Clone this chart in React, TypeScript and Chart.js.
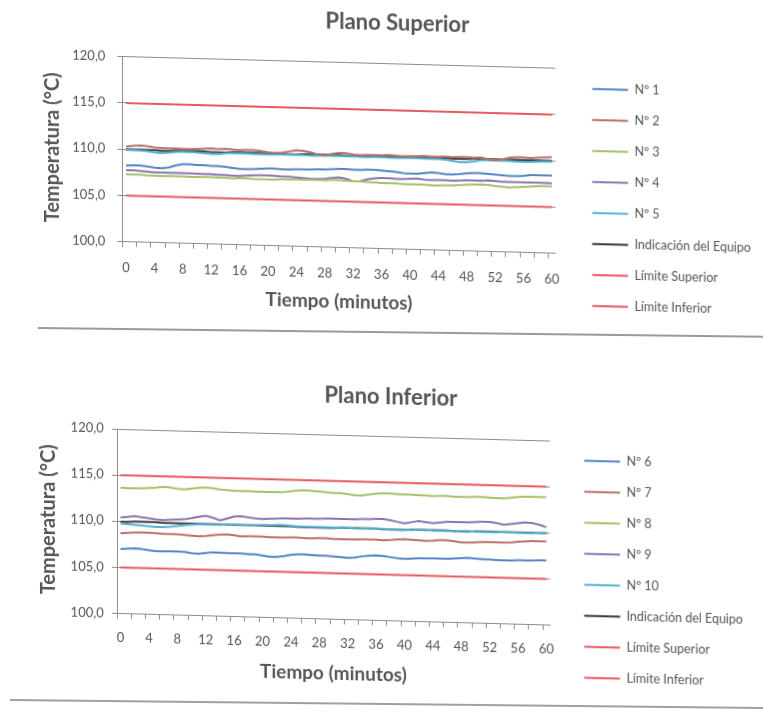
import React, { useEffect, useRef } from "react";
import { Chart, registerables } from "chart.js";

Chart.register(...registerables);

// ---------- DATA ----------
const minutes = [
  "0","1","2","3","4","5","6","7","8","9","10","11","12","13","14","15","16","17","18","19","20",
  "21","22","23","24","25","26","27","28","29","30","31","32","33","34","35","36","37","38","39","40",
  "41","42","43","44","45","46","47","48","49","50","51","52","53","54","55","56","57","58","59","60",
];
const xTickLabels = ["0","4","8","12","16","20","24","28","32","36","40","44","48","52","56","60"];
const yTicks = [100, 105, 110, 115, 120];

const limiteSuperior = [
  115,115,115,115,115,115,115,115,115,115,115,115,115,115,115,115,115,115,115,115,115,
  115,115,115,115,115,115,115,115,115,115,115,115,115,115,115,115,115,115,115,115,
  115,115,115,115,115,115,115,115,115,115,115,115,115,115,115,115,115,115,115,115,
];
const limiteInferior = [
  105,105,105,105,105,105,105,105,105,105,105,105,105,105,105,105,105,105,105,105,105,
  105,105,105,105,105,105,105,105,105,105,105,105,105,105,105,105,105,105,105,105,
  105,105,105,105,105,105,105,105,105,105,105,105,105,105,105,105,105,105,105,105,
];

// Plano Superior
const n1 = [
  108.25,108.3,108.3,108.2,108.1,108.05,108.15,108.4,108.55,108.55,
  108.5,108.5,108.45,108.45,108.4,108.3,108.2,108.2,108.25,108.3,
  108.35,108.35,108.3,108.3,108.35,108.35,108.35,108.4,108.4,108.45,
  108.5,108.5,108.45,108.45,108.5,108.5,108.45,108.4,108.35,108.25,
  108.2,108.2,108.3,108.4,108.35,108.25,108.25,108.3,108.4,108.45,
  108.45,108.4,108.35,108.3,108.25,108.25,108.3,108.4,108.4,108.4,108.4,
];
const n2 = [
  110.3,110.4,110.45,110.4,110.3,110.25,110.2,110.25,110.2,110.2,
  110.25,110.3,110.35,110.3,110.35,110.3,110.25,110.3,110.3,110.2,
  110.1,110.05,110.1,110.25,110.4,110.35,110.2,110.0,109.95,110.1,
  110.25,110.2,110.1,110.05,110.1,110.1,110.1,110.15,110.1,110.05,
  110.1,110.1,110.15,110.1,110.1,110.15,110.1,110.15,110.15,110.1,
  110.15,110.0,109.9,110.0,110.2,110.3,110.3,110.25,110.3,110.35,110.4,
];
const n3 = [
  107.3,107.3,107.3,107.25,107.25,107.2,107.25,107.25,107.25,107.2,
  107.2,107.25,107.25,107.2,107.2,107.15,107.2,107.2,107.15,107.15,
  107.15,107.15,107.2,107.2,107.25,107.25,107.25,107.25,107.25,107.3,
  107.3,107.25,107.2,107.2,107.15,107.15,107.1,107.1,107.1,107.05,
  107.05,107.05,107.05,107.0,107.0,107.05,107.05,107.1,107.15,107.2,
  107.25,107.2,107.1,107.05,107.0,107.05,107.1,107.15,107.2,107.25,107.25,
];
const n4 = [
  107.75,107.75,107.7,107.65,107.6,107.6,107.6,107.6,107.6,107.6,
  107.55,107.55,107.55,107.5,107.5,107.45,107.45,107.5,107.55,107.6,
  107.6,107.55,107.5,107.5,107.45,107.4,107.35,107.35,107.4,107.5,
  107.6,107.45,107.2,107.25,107.45,107.6,107.65,107.65,107.6,107.6,
  107.65,107.7,107.6,107.55,107.6,107.6,107.55,107.6,107.65,107.65,
  107.65,107.7,107.65,107.6,107.6,107.6,107.6,107.6,107.6,107.6,107.55,
];
const n5 = [
  109.95,109.95,109.9,109.85,109.75,109.7,109.75,109.85,109.9,109.9,
  109.85,109.8,109.75,109.75,109.85,109.9,109.9,109.9,109.85,109.85,
  109.85,109.85,109.9,109.9,109.9,109.9,109.85,109.85,109.9,109.9,
  109.9,109.9,109.9,109.85,109.85,109.9,109.9,109.85,109.85,109.85,
  109.9,109.9,109.85,109.85,109.85,109.8,109.7,109.6,109.6,109.7,
  109.85,109.85,109.85,109.85,109.85,109.8,109.8,109.8,109.85,109.9,109.9,
];
const indicacionSuperior = [
  110.0,110.0,110.0,110.0,110.0,109.95,109.95,110.0,110.0,110.0,
  110.0,110.0,109.95,109.95,109.95,110.0,110.0,110.0,110.0,110.0,
  110.0,110.0,110.0,109.95,109.95,110.0,110.0,110.0,110.0,110.0,
  110.0,109.95,109.95,109.95,110.0,110.0,110.0,110.0,109.95,109.95,
  110.0,110.0,110.0,110.0,110.0,110.0,109.95,109.95,109.95,110.0,
  110.0,110.0,110.0,110.0,110.0,110.0,110.0,110.0,110.0,110.0,110.0,
];

// Plano Inferior
const n6 = [
  107.0,107.05,107.1,107.05,106.95,106.85,106.85,106.9,106.9,106.85,
  106.75,106.7,106.8,106.9,106.9,106.85,106.85,106.85,106.8,106.8,
  106.7,106.6,106.6,106.7,106.85,106.95,106.95,106.9,106.85,106.85,
  106.8,106.75,106.7,106.75,106.9,107.0,107.05,107.0,106.9,106.8,
  106.75,106.8,106.85,106.85,106.9,106.9,106.9,106.95,107.0,107.05,
  107.0,106.95,106.95,106.9,106.9,106.9,106.95,106.95,106.95,107.0,107.0,
];
const n7 = [
  108.7,108.75,108.8,108.85,108.85,108.8,108.75,108.75,108.75,108.7,
  108.65,108.6,108.65,108.75,108.85,108.9,108.8,108.7,108.75,108.75,
  108.75,108.7,108.7,108.7,108.75,108.75,108.7,108.7,108.75,108.75,
  108.7,108.7,108.7,108.7,108.75,108.75,108.75,108.7,108.75,108.85,
  108.9,108.85,108.8,108.75,108.8,108.9,108.9,108.8,108.7,108.7,
  108.75,108.8,108.8,108.8,108.8,108.85,108.95,109.0,109.05,109.05,109.05,
];
const n8 = [
  113.65,113.6,113.6,113.65,113.7,113.75,113.85,113.8,113.7,113.65,
  113.75,113.85,113.9,113.85,113.75,113.7,113.65,113.65,113.65,113.6,
  113.6,113.6,113.6,113.65,113.75,113.85,113.9,113.85,113.8,113.75,
  113.7,113.7,113.6,113.5,113.5,113.65,113.75,113.8,113.8,113.75,
  113.75,113.75,113.7,113.7,113.65,113.7,113.7,113.65,113.65,113.65,
  113.7,113.7,113.65,113.6,113.6,113.7,113.8,113.85,113.85,113.85,113.85,
];
const n9 = [
  110.4,110.5,110.6,110.5,110.4,110.3,110.25,110.3,110.35,110.4,
  110.55,110.7,110.85,110.65,110.4,110.6,110.85,110.9,110.8,110.7,
  110.65,110.7,110.75,110.8,110.8,110.8,110.85,110.85,110.85,110.9,
  110.9,110.9,110.9,110.9,110.95,110.95,111.0,111.0,110.9,110.75,
  110.6,110.75,110.9,110.8,110.7,110.8,110.9,110.9,110.9,110.9,
  110.95,111.0,111.0,110.9,110.75,110.85,110.95,111.05,111.0,110.85,110.6,
];
const n10 = [
  109.75,109.7,109.65,109.6,109.55,109.5,109.5,109.55,109.65,109.75,
  109.85,109.9,109.9,109.9,109.9,109.95,109.95,109.95,109.95,109.95,
  110.0,110.0,110.05,110.05,110.0,109.95,109.95,109.95,109.95,109.95,
  109.95,109.95,109.95,109.9,109.9,109.95,109.95,109.95,109.9,109.9,
  109.9,109.9,109.95,109.95,109.9,109.9,109.9,109.9,109.95,109.95,
  109.9,109.9,109.9,109.9,109.95,109.95,109.9,109.9,109.9,109.95,109.95,
];
const indicacionInferior = [
  109.95,109.95,110.0,110.0,110.0,110.0,109.95,109.95,109.95,109.95,
  109.95,109.95,109.95,109.95,109.95,109.95,109.95,109.95,109.95,109.95,
  109.95,109.95,109.95,109.95,109.95,109.9,109.9,109.9,109.9,109.9,
  109.9,109.95,109.95,109.95,109.95,109.95,109.95,109.9,109.9,109.9,
  109.9,109.95,109.95,109.95,109.95,109.95,109.95,109.9,109.9,109.9,
  109.95,109.95,109.95,109.95,109.95,109.95,109.95,109.95,109.95,109.95,109.95,
];

const namesSuperior = ["Nº 1", "Nº 2", "Nº 3", "Nº 4", "Nº 5", "Indicación del Equipo", "Límite Superior", "Límite Inferior"];
const namesInferior = ["Nº 6", "Nº 7", "Nº 8", "Nº 9", "Nº 10", "Indicación del Equipo", "Límite Superior", "Límite Inferior"];
const seriesSuperior = [n1, n2, n3, n4, n5, indicacionSuperior, limiteSuperior, limiteInferior];
const seriesInferior = [n6, n7, n8, n9, n10, indicacionInferior, limiteSuperior, limiteInferior];

// ---------- STYLE ----------
const COLORS = ["#5485C2", "#B8716A", "#A3C26A", "#8A74B0", "#52B3D0", "#3A3A3A", "#E65A5E", "#E65A5E"];
const FONT = "Lato, 'Open Sans', sans-serif";
const TEXT = "#555555";
const TITLE_TEXT = "#565656";
const AXIS = "#8C8C8C";
const CANVAS_W = 800;

const TITLE_SIZE = 22;
const AXIS_TITLE_SIZE = 20;
const X_TITLE_SIZE = 19;
const TICK_SIZE = 13;
const LEGEND_SIZE = 12.5;
const LEGEND_PAD = 18.5;
const LEGEND_LINE = 36;
const TICK_LEN = 5;

type Target = {
  title: string;
  names: string[];
  series: number[][];
  top: number;
  height: number;
  titleX: number;
  titleY: number;
  plotLeft: number;
  plotWidth: number;
  plotTop: number;
  plotBottom: number;
  legendLeft: number;
  legendBottom: number;
  yTitleX: number;
  yLabelRight: number;
  xLabelY: number;
  xTitleY: number;
};

function measureLegend(names: string[]): number {
  const ctx = document.createElement("canvas").getContext("2d");
  if (!ctx) return 120;
  ctx.font = `normal ${LEGEND_SIZE}px ${FONT}`;
  return Math.max(...names.map((n) => ctx.measureText(n).width));
}

function buildConfig(t: Target): any {
  const textW = measureLegend(t.names);
  const legendW = LEGEND_PAD + LEGEND_LINE + LEGEND_SIZE / 2 + textW + 10;
  const padBottom = t.height - t.legendBottom;
  const padRight = CANVAS_W - t.legendLeft - legendW;
  const padLeft = 2 * t.titleX - CANVAS_W + padRight;
  const titleLH = TITLE_SIZE * 1.2;
  const titlePadTop = t.titleY - titleLH / 2;
  const titlePadBottom = t.plotTop - titlePadTop - titleLH;
  const axisLH = AXIS_TITLE_SIZE * 1.2;
  const xTitleLH = X_TITLE_SIZE * 1.2;
  const yTitlePad = Math.max(0, t.yTitleX - padLeft - axisLH / 2);
  const yAxisWidth = t.plotLeft - padLeft;
  const yTickPad = t.plotLeft - TICK_LEN - t.yLabelRight;
  const xAxisHeight = t.legendBottom - t.plotBottom;
  const xTitlePad = t.legendBottom - xTitleLH / 2 - t.xTitleY;
  const xTickPad = t.xLabelY - t.plotBottom - TICK_LEN - (TICK_SIZE * 1.2) / 2;
  const gapRight = t.legendLeft - (t.plotLeft + t.plotWidth);

  return {
    type: "line",
    data: {
      labels: minutes,
      datasets: t.names.map((name, i) => ({
        label: name,
        data: t.series[i],
        borderColor: COLORS[i],
        backgroundColor: COLORS[i],
        borderWidth: 2,
        pointRadius: 0,
        pointHoverRadius: 0,
        tension: 0,
        fill: false,
      })),
    },
    options: {
      responsive: false,
      animation: false,
      events: [],
      layout: { padding: { left: padLeft, right: padRight, top: 0, bottom: padBottom } },
      plugins: {
        title: {
          display: true,
          text: t.title,
          color: TITLE_TEXT,
          font: { family: FONT, size: TITLE_SIZE, weight: "bold" },
          padding: { top: titlePadTop, bottom: titlePadBottom },
        },
        legend: {
          display: true,
          position: "right",
          align: "end",
          maxWidth: legendW + 20,
          labels: {
            usePointStyle: true,
            pointStyle: "line",
            pointStyleWidth: LEGEND_LINE,
            padding: LEGEND_PAD,
            color: TEXT,
            font: { family: FONT, size: LEGEND_SIZE },
          },
        },
        tooltip: { enabled: false },
      },
      scales: {
        x: {
          type: "category",
          offset: true,
          grid: {
            display: true,
            drawOnChartArea: false,
            drawTicks: true,
            tickLength: TICK_LEN,
            offset: true,
            color: (c: any) => (c.index % 2 === 0 ? AXIS : "rgba(0,0,0,0)"),
          },
          border: { display: true, color: AXIS, width: 1 },
          ticks: {
            autoSkip: false,
            maxRotation: 0,
            minRotation: 0,
            padding: xTickPad,
            color: TEXT,
            font: { family: FONT, size: TICK_SIZE },
            callback: (_v: any, i: number) => (xTickLabels.includes(minutes[i]) ? minutes[i] : ""),
          },
          title: {
            display: true,
            text: "Tiempo (minutos)",
            color: TITLE_TEXT,
            font: { family: FONT, size: X_TITLE_SIZE, weight: "bold" },
            padding: { top: 0, bottom: xTitlePad },
          },
          afterFit: (s: any) => {
            s.height = xAxisHeight;
          },
        },
        y: {
          type: "linear",
          min: yTicks[0],
          max: yTicks[yTicks.length - 1],
          afterBuildTicks: (s: any) => {
            s.ticks = yTicks.map((v) => ({ value: v }));
          },
          grid: { color: AXIS, lineWidth: 1, drawTicks: true, tickLength: TICK_LEN },
          border: { display: true, color: AXIS, width: 1 },
          ticks: {
            padding: yTickPad,
            color: TEXT,
            font: { family: FONT, size: TICK_SIZE },
            callback: (v: any) => Number(v).toFixed(1).replace(".", ","),
          },
          title: {
            display: true,
            text: "Temperatura (°C)",
            color: TITLE_TEXT,
            font: { family: FONT, size: AXIS_TITLE_SIZE, weight: "bold" },
            padding: { top: yTitlePad, bottom: 0 },
          },
          afterFit: (s: any) => {
            s.width = yAxisWidth;
          },
        },
        gap: {
          type: "linear",
          position: "right",
          display: true,
          grid: { display: false },
          border: { display: false },
          ticks: { display: false },
          afterFit: (s: any) => {
            s.width = gapRight;
          },
        },
      },
    },
  };
}

const targetSuperior: Target = {
  title: "Plano Superior",
  names: namesSuperior,
  series: seriesSuperior,
  top: 0,
  height: 330,
  titleX: 397.5,
  titleY: 22.6,
  plotLeft: 122.5,
  plotWidth: 433.1,
  plotTop: 63.7,
  plotBottom: 248.7,
  legendLeft: 573.9,
  legendBottom: 325,
  yTitleX: 53,
  yLabelRight: 105.4,
  xLabelY: 274.4,
  xTitleY: 302.9,
};

const targetInferior: Target = {
  title: "Plano Inferior",
  names: namesInferior,
  series: seriesInferior,
  top: 330,
  height: 385,
  titleX: 391,
  titleY: 66.7,
  plotLeft: 117,
  plotWidth: 433.1,
  plotTop: 106.1,
  plotBottom: 290.5,
  legendLeft: 565.9,
  legendBottom: 367,
  yTitleX: 49,
  yLabelRight: 103.7,
  xLabelY: 315,
  xTitleY: 344.7,
};

function LineChart({ target }: { target: Target }) {
  const ref = useRef<HTMLCanvasElement | null>(null);
  useEffect(() => {
    if (!ref.current) return;
    const chart = new Chart(ref.current, buildConfig(target));
    return () => chart.destroy();
  }, [target]);
  return (
    <canvas
      ref={ref}
      width={CANVAS_W}
      height={target.height}
      style={{ position: "absolute", left: 0, top: target.top, width: CANVAS_W, height: target.height }}
    />
  );
}

export default function App() {
  return (
    <div
      style={{
        position: "fixed",
        left: 0,
        top: 0,
        width: 763,
        height: 715,
        overflow: "hidden",
        background: "#ffffff",
      }}
    >
      <div
        style={{
          position: "absolute",
          left: 0,
          top: 0,
          width: 763,
          height: 715,
          transform: "skewY(1.547deg)",
          transformOrigin: "381px 357px",
        }}
      >
        <LineChart target={targetSuperior} />
        <LineChart target={targetInferior} />
      </div>
      <div
        style={{
          position: "absolute",
          left: 38,
          top: 327,
          width: 730,
          height: 1.5,
          background: "#9a9a9a",
          transform: "rotate(0.7deg)",
          transformOrigin: "0 0",
        }}
      />
      <div
        style={{
          position: "absolute",
          left: 10,
          top: 699,
          width: 760,
          height: 1.5,
          background: "#a0a0a0",
          transform: "rotate(0.6deg)",
          transformOrigin: "0 0",
        }}
      />
    </div>
  );
}
